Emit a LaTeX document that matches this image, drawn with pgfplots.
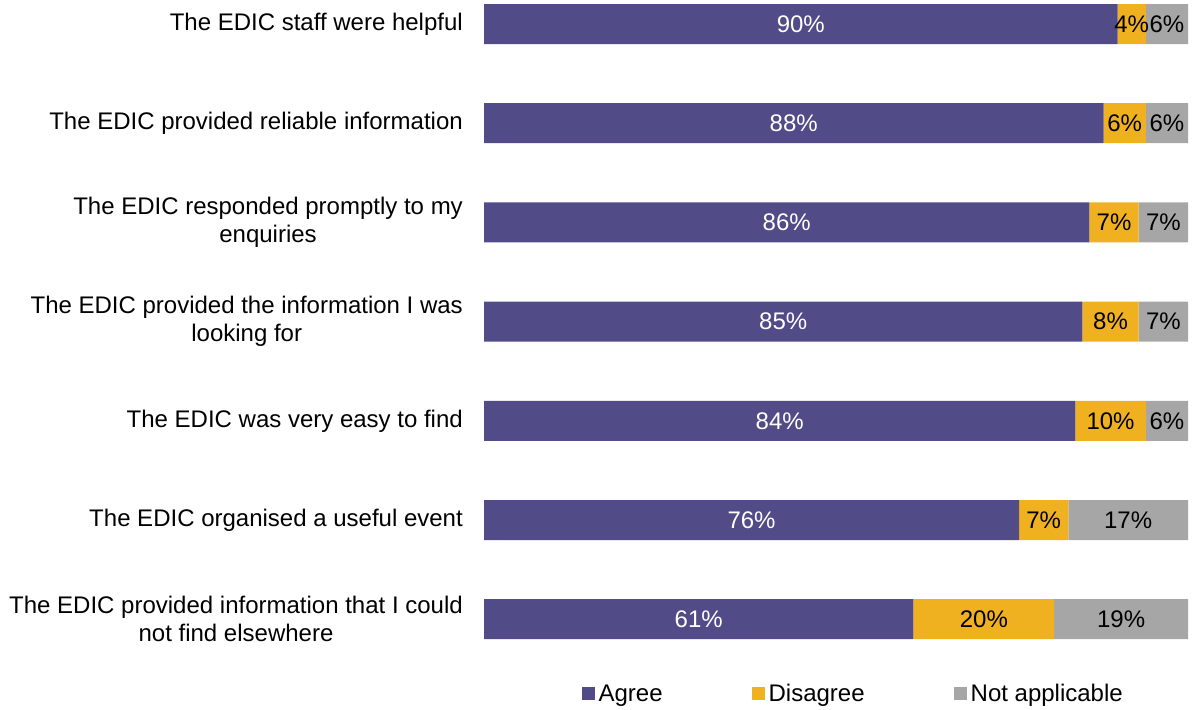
\documentclass[border=0pt]{standalone}
\usepackage{fontspec}
\setmainfont{Liberation Sans}
\usepackage{pgfplots}
\pgfplotsset{compat=1.18}
\definecolor{agree}{HTML}{514B88}
\definecolor{disagree}{HTML}{F0B120}
\definecolor{na}{HTML}{A6A6A6}
\begin{document}
\begin{tikzpicture}
\useasboundingbox (0,0) rectangle (1193pt,-709pt);
\begin{axis}[
  at={(484pt,25.6pt)}, anchor=north west,
  scale only axis, width=704pt, height=694.4pt,
  xbar stacked, bar width=40pt,
  xmin=0, xmax=100, ymin=-0.5, ymax=6.5, y dir=reverse,
  axis line style={draw=none},
  major tick length=0pt, tick style={draw=none},
  xtick=\empty,
  ytick={0,1,2,3,4,5,6},
  yticklabels={
    {The EDIC staff were helpful},
    {The EDIC provided reliable information},
    {The EDIC responded promptly to my\\enquiries},
    {The EDIC provided the information I was\\looking for},
    {The EDIC was very easy to find},
    {The EDIC organised a useful event},
    {The EDIC provided information that I could\\not find elsewhere}},
  yticklabel style={font=\fontsize{24}{28}\selectfont, align=center, inner sep=0pt, xshift=-21pt, text=black},
  /pgf/number format/assume math mode=true,
  point meta=explicit,
  nodes near coords={\pgfmathprintnumber{\pgfplotspointmeta}\%},
  every node near coord/.append style={font=\fontsize{24}{28}\selectfont, anchor=center, inner sep=0pt},
  legend columns=3,
  legend style={at={(rel axis cs:0.523,0)}, anchor=center, yshift=-25pt, draw=none, fill=none,
    font=\fontsize{24}{28}\selectfont, nodes={inner sep=0pt},
    /tikz/every odd column/.append style={column sep=4pt},
    /tikz/every even column/.append style={column sep=89pt}},
]
\addplot[fill=agree, draw=none, nodes near coords style={text=white},
  legend image code/.code={\fill[agree] (0pt,-6.5pt) rectangle (13pt,6.5pt);}]
  coordinates {(90,0)[90] (88,1)[88] (86,2)[86] (85,3)[85] (84,4)[84] (76,5)[76] (61,6)[61]};
\addplot[fill=disagree, draw=none, nodes near coords style={text=black},
  legend image code/.code={\fill[disagree] (0pt,-6.5pt) rectangle (13pt,6.5pt);}]
  coordinates {(4,0)[4] (6,1)[6] (7,2)[7] (8,3)[8] (10,4)[10] (7,5)[7] (20,6)[20]};
\addplot[fill=na, draw=none, nodes near coords style={text=black},
  legend image code/.code={\fill[na] (0pt,-6.5pt) rectangle (13pt,6.5pt);}]
  coordinates {(6,0)[6] (6,1)[6] (7,2)[7] (7,3)[7] (6,4)[6] (17,5)[17] (19,6)[19]};
\legend{Agree, Disagree, Not applicable}
\end{axis}
\end{tikzpicture}
\end{document}
